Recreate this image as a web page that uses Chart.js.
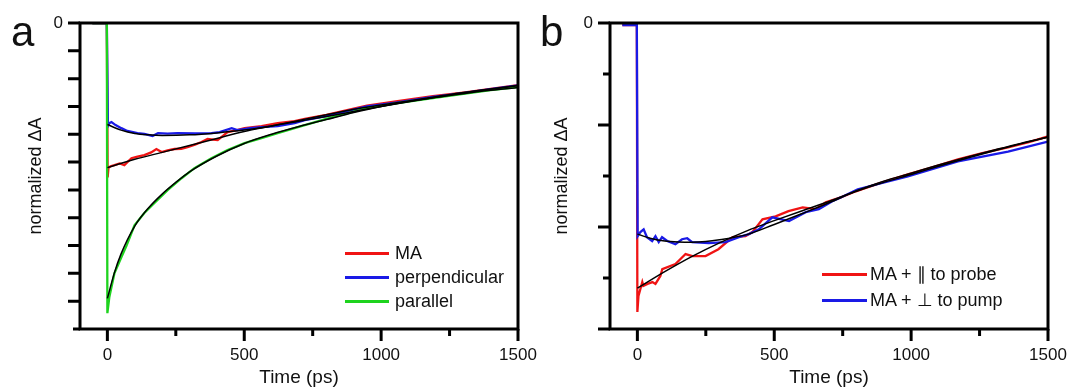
<!DOCTYPE html>
<html>
<head>
<meta charset="utf-8">
<script src="https://cdn.jsdelivr.net/npm/chart.js@4.4.1/dist/chart.umd.min.js"></script>
<style>
  body { margin: 0; width: 1071px; height: 387px; background: #fff; position: relative; overflow: hidden;
         font-family: "Liberation Sans", Arial, sans-serif; color: #111; }
  canvas { position: absolute; top: 0; }
  .tag { position: absolute; font-size: 42px; line-height: 42px; }
  .leg { position: absolute; height: 22px; line-height: 22px; font-size: 18px; white-space: nowrap; }
  .leg i { position: absolute; left: 0; top: 10px; height: 2.5px; }
  .leg span { position: absolute; }
</style>
</head>
<body>
<canvas id="chartA" width="560" height="387" style="left:0"></canvas>
<canvas id="chartB" width="541" height="387" style="left:530px"></canvas>

<div class="tag" style="left:11px; top:11px">a</div>
<div class="tag" style="left:540px; top:11px">b</div>

<div class="leg" style="left:345px; top:242px"><i style="width:44px; background:#f01414"></i><span style="left:50px">MA</span></div>
<div class="leg" style="left:345px; top:266px"><i style="width:44px; background:#1a1ae6"></i><span style="left:50px">perpendicular</span></div>
<div class="leg" style="left:345px; top:290px"><i style="width:44px; background:#1ed31e"></i><span style="left:50px">parallel</span></div>

<div class="leg" style="left:822px; top:263px"><i style="width:45px; background:#f01414"></i><span style="left:48px">MA + ∥ to probe</span></div>
<div class="leg" style="left:822px; top:289px"><i style="width:45px; background:#1a1ae6"></i><span style="left:48px">MA + ⊥ to pump</span></div>

<script>
// ---- panel a: time (ps) and normalized dA ----
const tMA_a = [-55, -2, 1, 4, 12, 26, 45, 62, 88, 110, 135, 160, 179, 198, 220, 245, 270, 293, 320, 344, 366, 403, 439, 470, 501, 563, 622, 684, 721, 800, 880, 948, 1060, 1189, 1300, 1400, 1500];
const vMA_a = [0, 0, -0.555, -0.52, -0.515, -0.511, -0.505, -0.511, -0.486, -0.48, -0.475, -0.465, -0.453, -0.464, -0.458, -0.453, -0.452, -0.446, -0.437, -0.428, -0.417, -0.421, -0.392, -0.386, -0.378, -0.371, -0.36, -0.353, -0.345, -0.33, -0.312, -0.297, -0.281, -0.263, -0.25, -0.237, -0.223];

const tPerp_a = [-55, -2, 2, 7, 15, 30, 51, 73, 110, 135, 165, 185, 220, 256, 320, 380, 410, 454, 475, 520, 563, 622, 684, 721, 800, 948, 1060, 1189, 1300, 1400, 1500];
const vPerp_a = [0, 0, -0.37, -0.36, -0.356, -0.367, -0.378, -0.388, -0.396, -0.399, -0.406, -0.396, -0.398, -0.396, -0.397, -0.396, -0.392, -0.378, -0.385, -0.378, -0.374, -0.371, -0.36, -0.349, -0.335, -0.3, -0.285, -0.266, -0.252, -0.238, -0.224];

const tPar_a = [-55, -2, 0, 7, 26, 51, 70, 88, 99, 135, 172, 220, 271, 318, 380, 439, 501, 563, 622, 684, 721, 800, 948, 1060, 1189, 1300, 1400, 1500];
const vPar_a = [0, 0, -1.043, -0.986, -0.899, -0.842, -0.8, -0.755, -0.727, -0.683, -0.647, -0.601, -0.558, -0.522, -0.486, -0.457, -0.432, -0.414, -0.396, -0.378, -0.367, -0.345, -0.306, -0.288, -0.27, -0.255, -0.241, -0.23];

// fits (black)
const tFitMA_a = [0, 100, 200, 300, 400, 500, 600, 700, 800, 900, 1000, 1100, 1200, 1300, 1400, 1500];
const vFitMA_a = [-0.52, -0.49, -0.465, -0.44, -0.415, -0.39, -0.37, -0.35, -0.33, -0.31, -0.295, -0.28, -0.265, -0.25, -0.237, -0.225];
const tFitPerp_a = [0, 50, 100, 150, 200, 300, 400, 500, 600, 700, 800, 900, 1000, 1100, 1200, 1300, 1400, 1500];
const vFitPerp_a = [-0.365, -0.385, -0.397, -0.402, -0.404, -0.402, -0.395, -0.385, -0.37, -0.353, -0.336, -0.318, -0.3, -0.283, -0.267, -0.252, -0.238, -0.225];
const tFitPar_a = [0, 25, 50, 100, 150, 200, 250, 300, 400, 500, 600, 700, 800, 900, 1000, 1100, 1200, 1300, 1400, 1500];
const vFitPar_a = [-0.99, -0.9, -0.83, -0.73, -0.665, -0.615, -0.573, -0.535, -0.478, -0.433, -0.4, -0.372, -0.347, -0.322, -0.3, -0.282, -0.267, -0.254, -0.242, -0.232];

// ---- panel b ----
const tProbe_b = [-55, -2, 0, 4, 11, 18, 22, 37, 55, 66, 84, 91, 139, 176, 201, 249, 296, 348, 395, 420, 457, 505, 552, 604, 651, 688, 743, 798, 880, 988, 1080, 1171, 1260, 1354, 1430, 1500];
const vProbe_b = [-0.008, -0.008, -1.133, -1.07, -1.043, -1.016, -1.031, -1.023, -1.016, -1.023, -0.992, -0.965, -0.945, -0.906, -0.914, -0.914, -0.887, -0.84, -0.836, -0.82, -0.77, -0.758, -0.738, -0.723, -0.73, -0.703, -0.684, -0.66, -0.63, -0.594, -0.565, -0.535, -0.51, -0.488, -0.467, -0.445];

const tPump_b = [-55, -2, 1, 11, 23, 35, 54, 66, 78, 90, 109, 139, 163, 182, 200, 261, 322, 371, 407, 444, 493, 554, 615, 663, 712, 743, 805, 988, 1171, 1354, 1500];
const vPump_b = [-0.008, -0.008, -0.836, -0.82, -0.809, -0.84, -0.855, -0.836, -0.859, -0.84, -0.855, -0.867, -0.848, -0.844, -0.859, -0.863, -0.859, -0.84, -0.828, -0.809, -0.762, -0.777, -0.742, -0.73, -0.699, -0.684, -0.652, -0.602, -0.543, -0.504, -0.465];

const tFitProbe_b = [0, 100, 200, 300, 400, 500, 600, 700, 800, 900, 1000, 1100, 1200, 1300, 1400, 1500];
const vFitProbe_b = [-1.04, -0.975, -0.915, -0.862, -0.815, -0.775, -0.737, -0.7, -0.66, -0.625, -0.594, -0.562, -0.531, -0.502, -0.474, -0.447];
const tFitPump_b = [0, 50, 100, 150, 200, 250, 300, 400, 500, 600, 700, 800, 900, 1000, 1100, 1200, 1300, 1400, 1500];
const vFitPump_b = [-0.828, -0.845, -0.855, -0.859, -0.86, -0.857, -0.85, -0.83, -0.79, -0.748, -0.705, -0.658, -0.62, -0.589, -0.557, -0.527, -0.499, -0.472, -0.448];

// ticks
const xTicks = [0, 250, 500, 750, 1000, 1250, 1500];
const xMajor = [0, 500, 1000, 1500];
const yTicksA = [0, -0.1, -0.2, -0.3, -0.4, -0.5, -0.6, -0.7, -0.8, -0.9, -1.0, -1.1];
const yMajorA = [0, -0.1, -0.2, -0.3, -0.4, -0.5, -0.6, -0.7, -0.8, -0.9, -1.0];
const yTicksB = [0, -0.2, -0.4, -0.6, -0.8, -1.0, -1.2];
const yMajorB = [0, -0.4, -0.8, -1.2];

const RED = '#f01414', BLUE = '#1a1ae6', GREEN = '#1ed31e';
const FONT = "'Liberation Sans', Arial, sans-serif";

function pts(t, v) {
    return t.map((x, i) => ({ x: x, y: v[i] }));
}

function dataLine(t, v, color, order) {
    return { data: pts(t, v), borderColor: color, borderWidth: 2.3, pointRadius: 0, tension: 0, order: order };
}

function fitLine(t, v) {
    return { data: pts(t, v), borderColor: '#000', borderWidth: 1.5, pointRadius: 0,
             cubicInterpolationMode: 'monotone', order: 0 };
}

function isIn(list, v) {
    return list.some(m => Math.abs(m - v) < 1e-6);
}

// frame box + outward tick marks, placed with the chart's own scales
function framePlugin(yMajor) {
    return {
        id: 'frame',
        afterDraw(chart) {
            const { ctx, chartArea: a, scales: { x, y } } = chart;
            ctx.save();
            ctx.strokeStyle = '#000';
            ctx.lineWidth = 3;
            ctx.lineJoin = 'miter';
            ctx.strokeRect(a.left, a.top, a.right - a.left, a.bottom - a.top);
            ctx.beginPath();
            x.ticks.forEach(t => {
                const px = x.getPixelForValue(t.value);
                const len = isIn(xMajor, t.value) ? 12 : 7;
                ctx.moveTo(px, a.bottom);
                ctx.lineTo(px, a.bottom + len);
            });
            y.ticks.forEach(t => {
                const py = y.getPixelForValue(t.value);
                const len = isIn(yMajor, t.value) ? 12 : 7;
                ctx.moveTo(a.left - len, py);
                ctx.lineTo(a.left, py);
            });
            ctx.stroke();
            ctx.restore();
        }
    };
}

function makeChart(id, datasets, yMin, yTicks, yMajor, padRight, titleOffset) {
    const ctx = document.getElementById(id).getContext('2d');
    return new Chart(ctx, {
        type: 'line',
        data: { datasets: datasets },
        options: {
            responsive: false,
            animation: false,
            devicePixelRatio: 1,
            layout: { padding: { top: 23, right: padRight, left: 0, bottom: 0 } },
            plugins: { legend: { display: false }, tooltip: { enabled: false } },
            scales: {
                x: {
                    type: 'linear',
                    min: -100,
                    max: 1500,
                    afterBuildTicks: s => { s.ticks = xTicks.map(v => ({ value: v })); },
                    afterFit: s => { s.height = 58; s.paddingLeft = 0; s.paddingRight = 0; },
                    ticks: {
                        autoSkip: false, maxRotation: 0, padding: 8, color: '#111',
                        font: { family: FONT, size: 17 },
                        callback: v => isIn(xMajor, v) ? String(v) : ''
                    },
                    grid: { display: false },
                    border: { display: false },
                    title: { display: true, text: 'Time (ps)', color: '#111', padding: 0,
                             font: { family: FONT, size: 19, lineHeight: 1 } }
                },
                y: {
                    type: 'linear',
                    min: yMin,
                    max: 0,
                    afterBuildTicks: s => { s.ticks = yTicks.map(v => ({ value: v })); },
                    afterFit: s => { s.width = 80; s.paddingTop = 0; s.paddingBottom = 0; },
                    ticks: {
                        autoSkip: false, padding: 9, color: '#111',
                        font: { family: FONT, size: 17 },
                        callback: v => Math.abs(v) < 1e-9 ? '0' : ''
                    },
                    grid: { display: false },
                    border: { display: false },
                    title: { display: true, text: 'normalized ΔA', color: '#111',
                             padding: { top: titleOffset, bottom: 0 },
                             font: { family: FONT, size: 18 } }
                }
            }
        },
        plugins: [framePlugin(yMajor)]
    });
}

makeChart('chartA', [
    dataLine(tMA_a, vMA_a, RED, 3),
    dataLine(tPerp_a, vPerp_a, BLUE, 2),
    dataLine(tPar_a, vPar_a, GREEN, 1),
    fitLine(tFitMA_a, vFitMA_a),
    fitLine(tFitPerp_a, vFitPerp_a),
    fitLine(tFitPar_a, vFitPar_a)
], -1.1, yTicksA, yMajorA, 42, 25);

makeChart('chartB', [
    dataLine(tProbe_b, vProbe_b, RED, 2),
    dataLine(tPump_b, vPump_b, BLUE, 1),
    fitLine(tFitProbe_b, vFitProbe_b),
    fitLine(tFitPump_b, vFitPump_b)
], -1.2, yTicksB, yMajorB, 23, 21);
</script>
</body>
</html>
